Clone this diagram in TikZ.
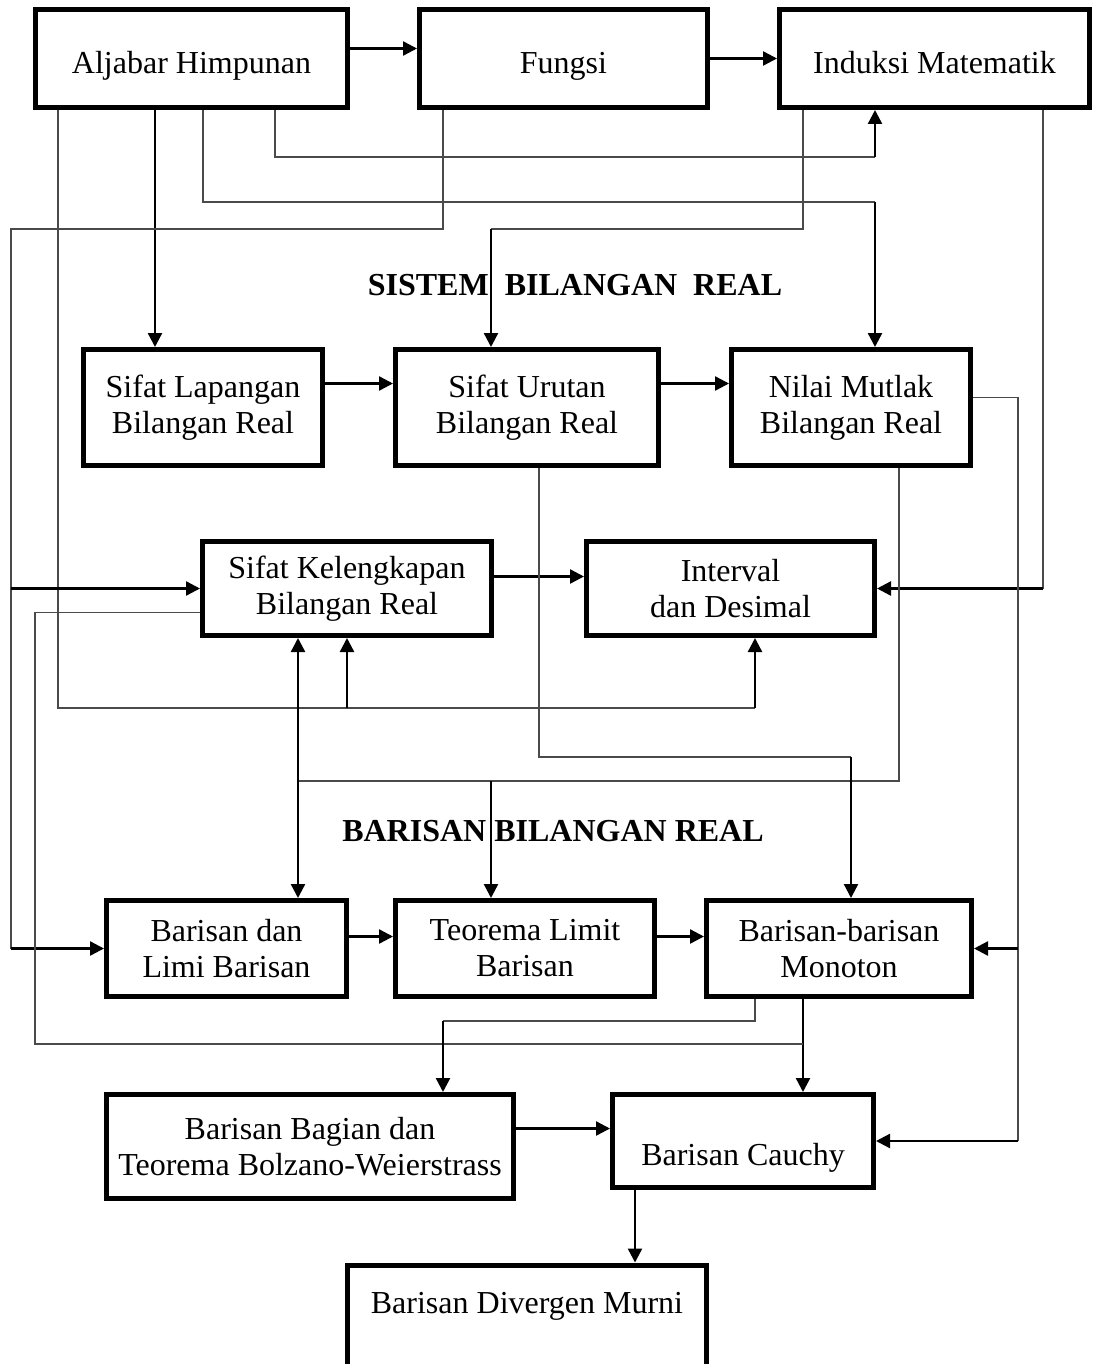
\documentclass[tikz,border=0pt]{standalone}
\usepackage{fontspec}
\setmainfont{Liberation Serif}
\usepackage{tikz}
\usetikzlibrary{
  arrows.meta,
  positioning,
  calc,
}
\definecolor{linkGray}{HTML}{4A4A4A}

\begin{document}
\begin{tikzpicture}[x=0.5pt, y=-0.5pt,
    topic/.style={draw, line width=2.5pt, inner sep=0pt, align=center,
      font=\fontsize{16}{18}\selectfont},
    oneline/.style={text height=18pt, text depth=3pt},
    heading/.style={anchor=base, font=\fontsize{16}{18}\selectfont\bfseries},
    flow/.style={line width=1.2pt, -{Triangle[length=7pt, width=7pt]}},
    flowboth/.style={line width=1.2pt,
      {Triangle[length=7pt, width=7pt]}-{Triangle[length=7pt, width=7pt]}},
    link/.style={line width=0.7pt, linkGray},
  ]
  \useasboundingbox (0,0) rectangle (1092,1364);

  % top row
  \node[topic, oneline, minimum width=156pt, minimum height=49pt] (aljabar) at (191.5,58.5) {Aljabar Himpunan};
  \node[topic, oneline, minimum width=144pt, minimum height=49pt] (fungsi) at (563.5,58.5) {Fungsi};
  \node[topic, oneline, minimum width=155pt, minimum height=49pt] (induksi) at (934.5,58.5) {Induksi Matematik};

  % sistem bilangan real
  \node[heading] (sistemTitle) at (575,295) {SISTEM\ \ BILANGAN\ \ REAL};
  \node[topic, minimum width=119.5pt, minimum height=58pt] (lapangan) at (203,407.5) {Sifat Lapangan\\Bilangan Real};
  \node[topic, minimum width=131.5pt, minimum height=58pt] (urutan) at (527,407.5) {Sifat Urutan\\Bilangan Real};
  \node[topic, minimum width=119.5pt, minimum height=58pt] (mutlak) at (851,407.5) {Nilai Mutlak\\Bilangan Real};
  \node[topic, minimum width=144.5pt, minimum height=47pt] (lengkap) at (347,588.5) {Sifat Kelengkapan\\Bilangan Real};
  \node[topic, minimum width=144pt, minimum height=47pt] (interval) at (730.5,588.5) {Interval\\dan Desimal};

  % barisan bilangan real
  \node[heading] (barisanTitle) at (553,841) {BARISAN BILANGAN REAL};
  \node[topic, minimum width=120pt, minimum height=48pt] (barisan) at (226.5,948.5) {Barisan dan\\Limi Barisan};
  \node[topic, minimum width=129.5pt, minimum height=48pt] (limit) at (525,948.5) {Teorema Limit\\Barisan};
  \node[topic, minimum width=132.5pt, minimum height=48pt] (monoton) at (839,948.5) {Barisan-barisan\\Monoton};
  \node[topic, minimum width=203.5pt, minimum height=52pt] (bagian) at (310,1146.5) {Barisan Bagian dan\\Teorema Bolzano-Weierstrass};
  \node[topic, text height=28pt, text depth=3.4pt, minimum width=130.5pt, minimum height=46.5pt] (cauchy) at (743,1141) {Barisan Cauchy};
  \node[topic, minimum width=179.5pt, text height=24.25pt, text depth=50pt, anchor=north] (divergen) at (527,1262.5) {Barisan Divergen Murni};

  % straight arrows
  \draw[flow] ([yshift=5pt]aljabar.east) -- ([yshift=5pt]fungsi.west);
  \draw[flow] (fungsi) -- (induksi);
  \foreach \a/\b in {lapangan/urutan, urutan/mutlak}
    \draw[flow] ([yshift=12pt]\a.east) -- ([yshift=12pt]\b.west);
  \draw[flow] ([yshift=6pt]lengkap.east) -- ([yshift=6pt]interval.west);
  \foreach \a/\b in {barisan/limit, limit/monoton}
    \draw[flow] ([yshift=6pt]\a.east) -- ([yshift=6pt]\b.west);
  \draw[flow] ([yshift=9pt]bagian.east) -- ([yshift=9pt]bagian.east -| cauchy.west);
  \draw[flow] (aljabar.south -| 155,0) -- (lapangan.north -| 155,0);
  \draw[flow] (monoton.south -| 803,0) -- (cauchy.north -| 803,0);
  \draw[flow] (cauchy.south -| 635,0) -- (divergen.north -| 635,0);

  % from Aljabar Himpunan
  \draw[link] (aljabar.south -| 58,0) |- (755,708) coordinate (jInt);
  \draw[flow] (jInt) -- (interval.south -| jInt);
  \draw[flow] (lengkap.south |- jInt) -- (lengkap.south);
  \draw[link] (aljabar.south -| 203,0) |- (875,202) coordinate (jMut);
  \draw[flow] (jMut) -- (mutlak.north -| jMut);
  \draw[link] (aljabar.south -| 275,0) |- (875,157) coordinate (jInd);
  \draw[flow] (jInd) -- (induksi.south -| jInd);

  % from Fungsi
  \draw[link] (fungsi.south -| 443,0) |- (11,229) -- (barisan.west -| 11,0) coordinate (jBar);
  \draw[flow] (jBar) -- (barisan.west);
  \draw[flow] (lengkap.west -| jBar) -- (lengkap.west);

  % from Induksi Matematik
  \draw[link] (induksi.south -| 803,0) |- (491,229) coordinate (jUrt);
  \draw[flow] (jUrt) -- (urutan.north -| jUrt);
  \draw[link] (induksi.south -| 1043,0) -- (interval.east -| 1043,0) coordinate (jRgt);
  \draw[flow] (jRgt) -- (interval.east);

  % from Nilai Mutlak
  \draw[link] ([yshift=5pt]mutlak.east) -| (cauchy.east -| 1018,0) coordinate (jCau);
  \draw[flow] (jCau) -- (cauchy.east);
  \draw[flow] (monoton.east -| jCau) -- (monoton.east);
  \draw[link] (mutlak.south -| 899,0) |- (298,781) coordinate (jMid);
  \draw[flowboth] (lengkap.south -| jMid) -- (barisan.north -| jMid);
  \coordinate (jLim) at (491,781);
  \draw[flow] (jLim) -- (limit.north -| jLim);

  % from Sifat Urutan
  \draw[link] (urutan.south -| 539,0) |- (851,757) coordinate (jMon);
  \draw[flow] (jMon) -- (monoton.north -| jMon);

  % from Sifat Kelengkapan
  \draw[link] ([yshift=-12pt]lengkap.west) -| (35,1044) -- (803,1044);

  % from Barisan-barisan Monoton
  \draw[link] (monoton.south -| 755,0) |- (443,1021) coordinate (jBag);
  \draw[flow] (jBag) -- (bagian.north -| jBag);
\end{tikzpicture}
\end{document}
